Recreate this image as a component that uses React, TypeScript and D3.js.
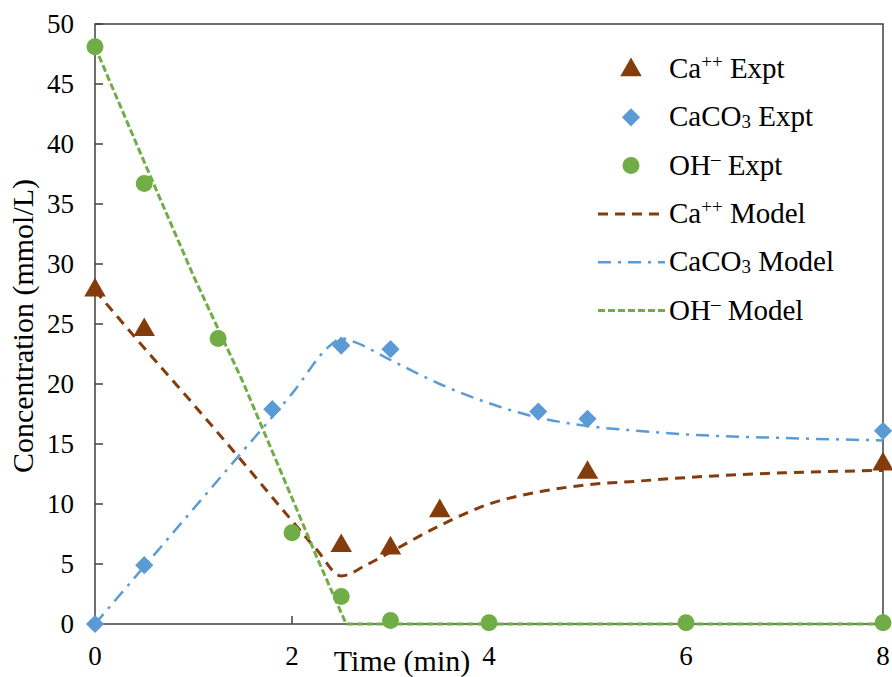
import React, { useEffect, useRef } from "react";
import * as d3 from "d3";

// experimental points
const caExptT = [0, 0.5, 2.5, 3, 3.5, 5, 8];
const caExptC = [27.9, 24.6, 6.6, 6.4, 9.5, 12.7, 13.4];

const caco3ExptT = [0, 0.5, 1.8, 2.5, 3, 4.5, 5, 8];
const caco3ExptC = [0, 4.9, 17.9, 23.2, 22.9, 17.7, 17.1, 16.1];

const ohExptT = [0, 0.5, 1.25, 2, 2.5, 3, 4, 6, 8];
const ohExptC = [48.1, 36.7, 23.8, 7.6, 2.3, 0.3, 0.1, 0.1, 0.1];

// model curves
const caModelT = [0, 0.5, 1, 1.5, 2, 2.25, 2.5, 2.75, 3, 3.5, 4, 4.5, 5, 5.5, 6, 7, 8];
const caModelC = [27.8, 23.0, 18.3, 13.5, 8.6, 6.2, 4.0, 4.9, 6.0, 8.2, 10.0, 11.0, 11.6, 11.9, 12.2, 12.6, 12.8];

const caco3ModelT = [0, 0.5, 1, 1.5, 2, 2.4, 2.5, 2.6, 3, 3.5, 4, 4.5, 5, 5.5, 6, 7, 8];
const caco3ModelC = [0, 4.8, 9.6, 14.4, 19.2, 23.3, 23.8, 23.6, 22.0, 20.0, 18.4, 17.2, 16.5, 16.1, 15.8, 15.5, 15.3];

const ohModelT = [0, 0.5, 1, 1.5, 2, 2.25, 2.55, 3, 4, 5, 6, 7, 8];
const ohModelC = [48.1, 38.5, 29.0, 20.2, 10.5, 5.6, 0, 0, 0, 0, 0, 0, 0];

const xTicks = [0, 2, 4, 6, 8];
const yTicks = [0, 5, 10, 15, 20, 25, 30, 35, 40, 45, 50];

const BROWN = "#843C0C";
const BLUE = "#5B9BD5";
const GREEN = "#70AD47";
const FONT = "Liberation Serif";

const zip = (t: number[], c: number[]) => t.map((v, i) => [v, c[i]] as [number, number]);

const App = () => {
  const svgRef = useRef<SVGSVGElement>(null);

  useEffect(() => {
    const width = 892;
    const height = 677;
    const margin = { top: 24, right: 9, bottom: 53, left: 95 };

    const svg = d3.select(svgRef.current);
    svg.selectAll("*").remove();
    svg.attr("width", width).attr("height", height).attr("font-family", FONT);

    const x = d3.scaleLinear().domain([0, 8]).range([margin.left, width - margin.right]);
    const y = d3.scaleLinear().domain([0, 50]).range([height - margin.bottom, margin.top]);

    // plot frame
    svg.append("rect")
      .attr("x", x(0)).attr("y", y(50))
      .attr("width", x(8) - x(0)).attr("height", y(0) - y(50))
      .attr("fill", "none").attr("stroke", "#404040").attr("stroke-width", 1.5);

    // y ticks (inside)
    yTicks.forEach(v => {
      svg.append("line")
        .attr("x1", x(0)).attr("x2", x(0) + 8)
        .attr("y1", y(v)).attr("y2", y(v))
        .attr("stroke", "#404040").attr("stroke-width", 1.5);
      svg.append("text")
        .attr("x", 74).attr("y", y(v) + 9)
        .attr("text-anchor", "end")
        .attr("font-size", 27)
        .text(v);
    });

    // x ticks (inside)
    xTicks.forEach(v => {
      svg.append("line")
        .attr("x1", x(v)).attr("x2", x(v))
        .attr("y1", y(0)).attr("y2", y(0) - 8)
        .attr("stroke", "#404040").attr("stroke-width", 1.5);
      svg.append("text")
        .attr("x", x(v)).attr("y", 665)
        .attr("text-anchor", "middle")
        .attr("font-size", 27)
        .text(v);
    });

    // axis titles
    svg.append("text")
      .attr("x", 402).attr("y", 671)
      .attr("text-anchor", "middle")
      .attr("font-size", 30)
      .text("Time (min)");

    svg.append("text")
      .attr("transform", "translate(33,326) rotate(-90)")
      .attr("text-anchor", "middle")
      .attr("font-size", 30)
      .text("Concentration (mmol/L)");

    // model lines
    const lineMono = d3.line<[number, number]>().x(d => x(d[0])).y(d => y(d[1])).curve(d3.curveMonotoneX);
    const lineLin = d3.line<[number, number]>().x(d => x(d[0])).y(d => y(d[1]));

    svg.append("path")
      .attr("d", lineMono(zip(caModelT, caModelC)))
      .attr("fill", "none").attr("stroke", BROWN).attr("stroke-width", 3)
      .attr("stroke-dasharray", "10 7");

    svg.append("path")
      .attr("d", lineMono(zip(caco3ModelT, caco3ModelC)))
      .attr("fill", "none").attr("stroke", BLUE).attr("stroke-width", 2.5)
      .attr("stroke-dasharray", "13 7 3 7");

    svg.append("path")
      .attr("d", lineLin(zip(ohModelT, ohModelC)))
      .attr("fill", "none").attr("stroke", GREEN).attr("stroke-width", 3)
      .attr("stroke-dasharray", "7 3");

    // markers
    const triangle = d3.symbol().type(d3.symbolTriangle).size(200);
    const diamond = d3.symbol().type(d3.symbolSquare).size(165);

    svg.append("g").selectAll("path")
      .data(zip(caco3ExptT, caco3ExptC))
      .join("path")
      .attr("d", diamond())
      .attr("transform", d => `translate(${x(d[0])},${y(d[1])}) rotate(45)`)
      .attr("fill", BLUE);

    svg.append("g").selectAll("path")
      .data(zip(caExptT, caExptC))
      .join("path")
      .attr("d", triangle())
      .attr("transform", d => `translate(${x(d[0])},${y(d[1]) + 1})`)
      .attr("fill", BROWN);

    svg.append("g").selectAll("circle")
      .data(zip(ohExptT, ohExptC))
      .join("circle")
      .attr("cx", d => x(d[0])).attr("cy", d => y(d[1]))
      .attr("r", 8.5)
      .attr("fill", GREEN);

    // legend
    const legend = [
      { base: "Ca", sup: "++", sub: "", tail: " Expt", kind: "tri" },
      { base: "CaCO", sup: "", sub: "3", tail: " Expt", kind: "dia" },
      { base: "OH", sup: "\u2013", sub: "", tail: " Expt", kind: "dot" },
      { base: "Ca", sup: "++", sub: "", tail: " Model", kind: "ca" },
      { base: "CaCO", sup: "", sub: "3", tail: " Model", kind: "caco3" },
      { base: "OH", sup: "\u2013", sub: "", tail: " Model", kind: "oh" },
    ];
    const lg = svg.append("g");
    legend.forEach((item, i) => {
      const cy = 69 + i * 48.3;
      const mx = 631;
      if (item.kind === "tri") {
        lg.append("path").attr("d", triangle()).attr("transform", `translate(${mx},${cy + 1})`).attr("fill", BROWN);
      } else if (item.kind === "dia") {
        lg.append("path").attr("d", diamond()).attr("transform", `translate(${mx},${cy}) rotate(45)`).attr("fill", BLUE);
      } else if (item.kind === "dot") {
        lg.append("circle").attr("cx", mx).attr("cy", cy).attr("r", 8.5).attr("fill", GREEN);
      } else {
        const styles: Record<string, [string, string, number]> = {
          ca: [BROWN, "10 7", 3],
          caco3: [BLUE, "13 7 3 7", 2.5],
          oh: [GREEN, "7 3", 3],
        };
        const [c, dash, w] = styles[item.kind];
        lg.append("line")
          .attr("x1", 598).attr("x2", 665).attr("y1", cy).attr("y2", cy)
          .attr("stroke", c).attr("stroke-width", w).attr("stroke-dasharray", dash);
      }
      const t = lg.append("text")
        .attr("x", 669).attr("y", cy + 9)
        .attr("font-size", 29);
      t.append("tspan").text(item.base);
      if (item.sup) {
        t.append("tspan").attr("dy", -10).attr("font-size", 19).text(item.sup);
        t.append("tspan").attr("dy", 10).text(item.tail);
      } else if (item.sub) {
        t.append("tspan").attr("dy", 2).attr("font-size", 19).text(item.sub);
        t.append("tspan").attr("dy", -2).text(item.tail);
      } else {
        t.append("tspan").text(item.tail);
      }
    });
  }, []);

  return (
    <div style={{ width: 892, height: 677, position: "absolute", left: 0, top: 0, background: "#fff" }}>
      <svg ref={svgRef}></svg>
    </div>
  );
};

export default App;
